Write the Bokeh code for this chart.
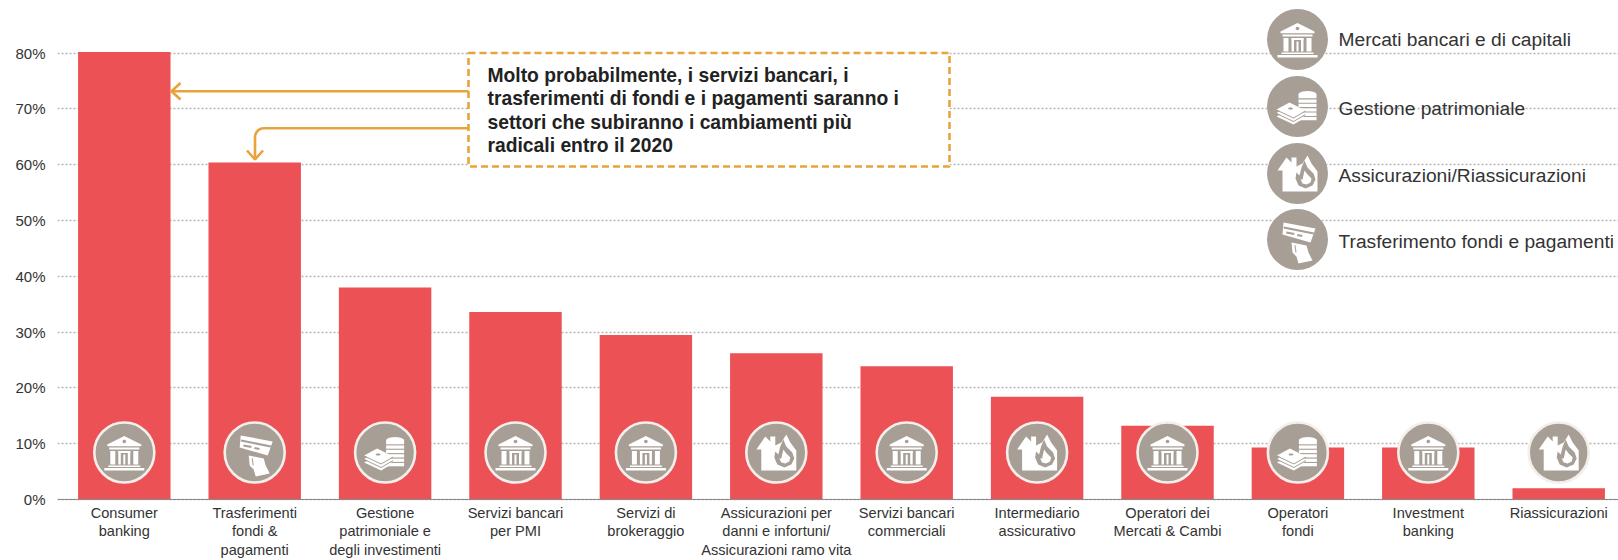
from bokeh.plotting import figure
from bokeh.embed import file_html
from bokeh.resources import INLINE
from bokeh.models import Range1d, FixedTicker, PrintfTickFormatter
from bokeh.core.properties import value
import math

# ---- data ----
categories = ["Consumer\nbanking", "Trasferimenti\nfondi &\npagamenti",
              "Gestione\npatrimoniale e\ndegli investimenti", "Servizi bancari\nper PMI",
              "Servizi di\nbrokeraggio", "Assicurazioni per\ndanni e infortuni/\nAssicurazioni ramo vita",
              "Servizi bancari\ncommerciali", "Intermediario\nassicurativo",
              "Operatori dei\nMercati & Cambi", "Operatori\nfondi", "Investment\nbanking", "Riassicurazioni"]
values = [80.2, 60.4, 38.0, 33.6, 29.5, 26.2, 23.9, 18.4, 13.2, 9.3, 9.3, 2.0]
icons = ["bank", "card", "coins", "bank", "bank", "house", "bank", "house", "bank", "coins", "bank", "house"]
y_ticks = [0, 10, 20, 30, 40, 50, 60, 70, 80]
legend_labels = ["Mercati bancari e di capitali", "Gestione patrimoniale",
                 "Assicurazioni/Riassicurazioni", "Trasferimento fondi e pagamenti"]
legend_icons = ["bank", "coins", "house", "card"]
callout_lines = ["Molto probabilmente, i servizi bancari, i",
                 "trasferimenti di fondi e i pagamenti saranno i",
                 "settori che subiranno i cambiamenti più",
                 "radicali entro il 2020"]

RED = "#EC5156"; TAUPE = "#A79E96"; ORANGE = "#E8A33A"; INK = "#333333"
FONT = "Liberation Sans"

# screen-pixel to data helpers (for annotations only)
def X(px): return (px - 123.8) / 130.4
def Y(py): return 80 * (499 - py) / 446.3

W, H = 1618, 560
p = figure(width=W, height=H, output_backend="svg", toolbar_location=None,
           x_range=Range1d(X(57), X(1618)), y_range=Range1d(Y(560), Y(0)),
           min_border_left=57, min_border_right=0, min_border_top=0, min_border_bottom=0,
           background_fill_color="white", border_fill_color="white", outline_line_color=None)

p.xgrid.visible = False
g = p.ygrid[0]
g.ticker = FixedTicker(ticks=y_ticks)
g.grid_line_color = "#B5B5B5"; g.grid_line_width = 1.5; g.grid_line_dash = "2 2"

ya = p.yaxis[0]
ya.ticker = FixedTicker(ticks=y_ticks)
ya.formatter = PrintfTickFormatter(format="%d%%")
ya.axis_line_color = None; ya.major_tick_line_color = None; ya.minor_tick_line_color = None
ya.major_tick_out = 0; ya.minor_tick_out = 0; ya.major_tick_in = 0; ya.minor_tick_in = 0
ya.major_label_standoff = 12
ya.major_label_text_font = FONT; ya.major_label_text_font_size = "15px"; ya.major_label_text_color = INK

xa = p.xaxis[0]
xa.fixed_location = 0
xa.ticker = FixedTicker(ticks=list(range(len(categories))))
xa.major_label_overrides = {i: c for i, c in enumerate(categories)}
xa.axis_line_color = "#8A8A8A"; xa.axis_line_width = 1.2
xa.major_tick_line_color = None; xa.minor_tick_line_color = None
xa.major_tick_out = 0; xa.minor_tick_out = 0; xa.major_tick_in = 0; xa.minor_tick_in = 0
xa.major_label_standoff = 5
xa.major_label_text_font = FONT; xa.major_label_text_font_size = "14.6px"; xa.major_label_text_color = INK
xa.major_label_text_line_height = 1.17

p.vbar(x=list(range(len(values))), top=values, width=0.709, fill_color=RED, line_color=None)

# ---- icons: layers of polygons as offsets in px from the circle centre ----
def rect(x0, y0, x1, y1):
    return [(x0, y0), (x1, y0), (x1, y1), (x0, y1)]

def ell(cx, cy, rx, ry, n=24):
    return [(cx + rx * math.cos(2 * math.pi * k / n), cy + ry * math.sin(2 * math.pi * k / n)) for k in range(n)]

BANK = [("white", [[(-17, -8), (0, -16.5), (17, -8), (17, -6.3), (-17, -6.3)],
                   rect(-15, -5, 15, -3),
                   rect(-14, -1.5, -9, 12), rect(9, -1.5, 14, 12),
                   rect(-6, -1.5, -3.5, 12), rect(3.5, -1.5, 6, 12), rect(-6, -1.5, 6, 0.5),
                   rect(-1, 2, 1, 12),
                   rect(-16, 13, 16, 14.5), rect(-20, 15.5, 20, 18)]),
        (TAUPE, [ell(0, -11, 1.8, 1.8, n=12)])]

COINS = [("white", [ell(10, -12, 9, 3.4)] +
          [rect(1, -11.5 + 4.4 * k, 19, -8.2 + 4.4 * k) for k in range(6)] +
          [[(-21, 3 + 3.5 * k), (-8, -4 + 3.5 * k), (8, 4 + 3.5 * k), (-4, 11 + 3.5 * k)] for k in (2, 1, 0)]),
         (TAUPE, [[(-21, 3 + 3.5 * k), (-4, 11 + 3.5 * k), (8, 4 + 3.5 * k), (8, 5 + 3.5 * k), (-4, 12 + 3.5 * k), (-21, 4 + 3.5 * k)] for k in (0, 1)] +
                 [ell(-7, 2, 2.4, 1.1, n=12)])]

HOUSE = [("white", [[(-20, -3), (-11, -16), (-6, -11), (-6, -16), (-1, -16), (-1, -7), (5, -10), (10, -18), (14, -10),
                     (20, -2), (20, 18), (-15, 18), (-15, -3)]]),
         (TAUPE, [[(7, -13), (10, -6), (16, 0), (18, 6), (15, 12), (8, 15), (1, 12), (-2, 5), (-1, -1), (2, 2), (4, -6)]]),
         ("white", [[(7, -3), (10, 1), (14, 5), (13, 9), (9, 11), (5, 10), (3, 6), (5, 6)]])]

CARD = [("white", [[(-14, -17), (18, -11), (13, 3), (-15, -5)],
                   [(-6, 3), (9, 6), (11, 13), (15, 21), (1, 24), (-1, 17), (-5, 13)]]),
        (TAUPE, [[(-13.5, -13), (16.5, -7), (16, -5), (-14, -11)],
                 [(-11, -8), (-3, -6.5), (-3.5, -4.5), (-11.5, -6)],
                 [(0, -5.5), (5, -4.5), (4.5, -2.5), (-0.5, -3.5)],
                 [(-3, 6), (-2, 5.5), (-1, 13), (-2, 13)]])]

ICON = {"bank": BANK, "coins": COINS, "house": HOUSE, "card": CARD}

def draw_icon(kind, cx, cy, ring):
    # cx, cy: centre in screen px
    p.scatter([X(cx)], [Y(cy)], marker="circle", size=60 if ring else 61, fill_color=TAUPE,
              line_color="#F4EFEA" if ring else None, line_width=2.6)
    for color, polys in ICON[kind]:
        xs = [[X(cx + a) for a, b in poly] for poly in polys]
        ys = [[Y(cy + b) for a, b in poly] for poly in polys]
        p.patches(xs, ys, fill_color=color, line_color=None)

for i, kind in enumerate(icons):
    draw_icon(kind, 123.8 + 130.4 * i, 452, True)

# ---- legend ----
for kind, label, cy, ty in zip(legend_icons, legend_labels, [39, 106, 173, 239], [39, 108, 175, 241]):
    draw_icon(kind, 1297, cy, False)
    p.text([X(1338)], [Y(ty)], text=[label], text_font=value(FONT), text_font_size="19.2px",
           text_color=INK, text_baseline="middle", text_align="left")

# ---- callout ----
p.quad(left=[X(468)], right=[X(949)], top=[Y(52.5)], bottom=[Y(166)], fill_color="white",
       line_color=ORANGE, line_width=2.6, line_dash="7 4")
for line, ty in zip(callout_lines, [75, 98, 122, 145]):
    p.text([X(487)], [Y(ty)], text=[line], text_font=value(FONT), text_font_size="19.3px",
           text_font_style="bold", text_color="#222222", text_baseline="middle", text_align="left")

# arrow to first bar
p.line([X(468), X(171)], [Y(90.7)] * 2, line_color=ORANGE, line_width=2.6)
p.line([X(180), X(171), X(180)], [Y(82.5), Y(90.7), Y(99)], line_color=ORANGE, line_width=2.6)
# arrow to second bar
corner = [(263.5 - 9 * math.sin(math.radians(a)), 136.7 - 9 * math.cos(math.radians(a))) for a in range(0, 91, 15)]
path = [(468, 127.7)] + corner + [(254.5, 159)]
p.line([X(a) for a, b in path], [Y(b) for a, b in path], line_color=ORANGE, line_width=2.6)
p.line([X(246.5), X(254.5), X(262.5)], [Y(150), Y(159), Y(150)], line_color=ORANGE, line_width=2.6)

open("out.html", "w").write(file_html(p, INLINE))
